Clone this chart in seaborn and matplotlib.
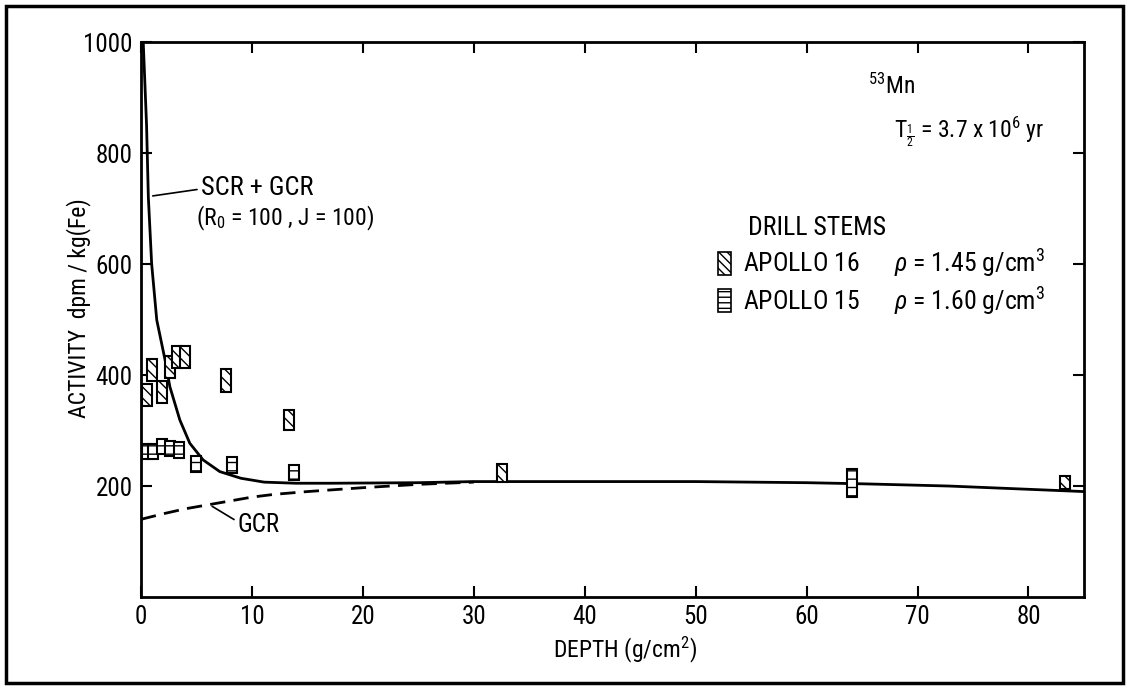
import numpy as np
import pandas as pd
import matplotlib
matplotlib.use("Agg")
import matplotlib.pyplot as plt
from matplotlib import font_manager
from matplotlib.patches import Rectangle, Patch
import seaborn as sns

# --- model curves: 53Mn activity vs depth ---
scr_gcr_depth = [0.2, 0.5, 0.66, 0.96, 1.42, 2.17, 2.6, 3.5, 4.4, 5.6, 7.1, 9.0, 11.1,
                 14, 17, 25, 30, 40, 50, 60, 65, 72.8, 85]
scr_gcr_activity = [1000, 850, 721, 600, 499, 427, 379, 319, 277, 247, 226, 214, 207,
                    205, 205, 206, 208, 208, 208, 206, 204, 200, 190]

gcr_depth = [0, 2, 4, 6, 8, 10, 12, 15, 20, 25, 30]
gcr_activity = [140, 150, 159, 166, 173, 180, 185, 190, 197, 203, 207]

# --- drill stem measurements (centre value and half-height of the box) ---
a16_depth = [0.5, 1.0, 1.9, 2.6, 3.2, 4.0, 7.65, 13.3, 32.5, 83.3]
a16_activity = [364, 409, 370, 415, 433, 433, 390, 319, 223, 206]
a16_err = [20, 20, 20, 20, 20, 20, 20, 18, 16, 12]

a15_depth = [0.5, 1.1, 1.87, 2.6, 3.4, 4.95, 8.2, 13.8, 64.1]
a15_activity = [262, 262, 271, 268, 265, 240, 238, 224, 205]
a15_err = [14, 14, 14, 14, 14, 14, 14, 14, 25]

x_ticks = [0, 10, 20, 30, 40, 50, 60, 70, 80]
y_ticks = [200, 400, 600, 800, 1000]

sns.set_theme(style="ticks")
names = {f.name for f in font_manager.fontManager.ttflist}
preferred = [n for n in ["Liberation Sans Narrow", "Roboto Condensed", "DejaVu Sans"]
             if n in names]
family = preferred[0]
plt.rcParams["font.family"] = preferred
plt.rcParams["font.stretch"] = "condensed"
plt.rcParams["mathtext.fontset"] = "custom"
plt.rcParams["mathtext.rm"] = family
plt.rcParams["mathtext.it"] = family + ":italic"
plt.rcParams["hatch.linewidth"] = 1.0
plt.rcParams["axes.linewidth"] = 2.0
for key in ["text.color", "axes.labelcolor", "xtick.color", "ytick.color"]:
    plt.rcParams[key] = "black"

fig = plt.figure(figsize=(11.29, 6.89), dpi=100)
ax = fig.add_axes([0.1249, 0.1335, 0.9601 - 0.1249, 0.939 - 0.1335])

curve_total = pd.DataFrame({"depth": scr_gcr_depth, "activity": scr_gcr_activity})
curve_gcr = pd.DataFrame({"depth": gcr_depth, "activity": gcr_activity})

sns.lineplot(data=curve_total, x="depth", y="activity", ax=ax, color="black",
             lw=2.0, sort=False, estimator=None)
sns.lineplot(data=curve_gcr, x="depth", y="activity", ax=ax, color="black",
             lw=2.0, sort=False, estimator=None, linestyle=(0, (5.5, 3)))

box_w = 0.9
a16_err_arr = np.array(a16_err)
a15_err_arr = np.array(a15_err)
ax.bar(a16_depth, 2 * a16_err_arr, bottom=np.array(a16_activity) - a16_err_arr,
       width=box_w, facecolor="white", edgecolor="black", linewidth=1.5,
       hatch="\\\\\\", zorder=3)
ax.bar(a15_depth, 2 * a15_err_arr, bottom=np.array(a15_activity) - a15_err_arr,
       width=box_w, facecolor="white", edgecolor="black", linewidth=1.5,
       hatch="--", zorder=3)

ax.set_xlim(0, 85)
ax.set_ylim(0, 1000)
ax.set_xticks(x_ticks)
ax.set_yticks(y_ticks)
ax.tick_params(direction="in", top=True, right=True, length=8, width=1.5,
               labelsize=18, pad=6, colors="black")
for s in ax.spines.values():
    s.set_color("black")
    s.set_linewidth(2.0)

ax.set_xlabel("DEPTH (g/cm$^2$)", fontsize=17)
ax.set_ylabel("ACTIVITY  dpm / kg(Fe)", fontsize=17)
ax.xaxis.set_label_coords(0.513, -0.068)
ax.yaxis.set_label_coords(-0.053, 0.52)

# curve labels with leader lines
ax.annotate("", xy=(0.81, 722), xytext=(5.3, 735),
            arrowprops=dict(arrowstyle="-", color="black", lw=1.2))
ax.text(5.4, 737, "SCR + GCR", fontsize=19, ha="left", va="center")
ax.text(4.95, 683, "(R$_0$ = 100 , J = 100)", fontsize=17, ha="left", va="center")
ax.annotate("", xy=(6.2, 166), xytext=(8.6, 137),
            arrowprops=dict(arrowstyle="-", color="black", lw=1.2))
ax.text(8.7, 130, "GCR", fontsize=18, ha="left", va="center")

# nuclide annotation
ax.text(65.5, 921, "$^{53}$Mn", fontsize=17, ha="left", va="center")
ax.text(67.9, 838, r"T$_{\frac{1}{2}}$ = 3.7 x 10$^{6}$ yr", fontsize=17,
        ha="left", va="center")

# legend
ax.text(54.7, 665, "DRILL STEMS", fontsize=18.5, ha="left", va="center")
handles = [Patch(facecolor="white", edgecolor="black", hatch="\\\\\\\\", lw=1.2),
           Patch(facecolor="white", edgecolor="black", hatch="---", lw=1.2)]
labels = ["APOLLO 16      $\\rho$ = 1.45 g/cm$^3$",
          "APOLLO 15      $\\rho$ = 1.60 g/cm$^3$"]
leg = ax.legend(handles, labels, loc="upper left", bbox_to_anchor=(0.612, 0.63),
                borderaxespad=0, borderpad=0, frameon=False, fontsize=18.5,
                handlelength=0.5, handleheight=1.0, handletextpad=0.45,
                labelspacing=0.2)

# outer frame of the figure
fig.add_artist(Rectangle((6 / 1129, 6 / 689), 1 - 12 / 1129, 1 - 12 / 689,
                         transform=fig.transFigure, fill=False, lw=2.5,
                         edgecolor="black"))

fig.savefig("out.png", dpi=100, facecolor="white")
